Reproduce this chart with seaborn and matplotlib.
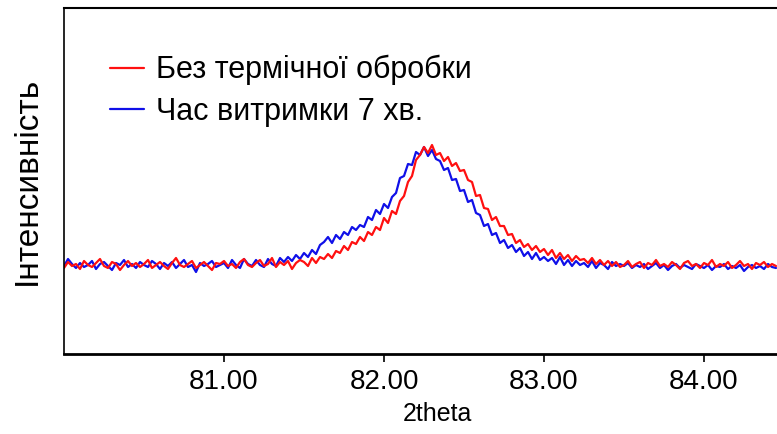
import numpy as np
import pandas as pd
import matplotlib
matplotlib.use("Agg")
import matplotlib.pyplot as plt
import seaborn as sns

# 2theta grid (step 0.025 from 80.000 to 84.450)
two_theta = [round(80.0 + 0.025 * i, 3) for i in range(179)]

# Intensity (arbitrary units)
red_no_treatment = [
    86, 92, 88, 90, 85, 93, 89, 87, 91, 95, 88, 86, 92, 90, 84, 89, 93, 88, 91, 87,
    90, 94, 86, 89, 92, 88, 85, 91, 96, 89, 87, 90, 93, 86, 89, 92, 88, 84, 91, 90,
    93, 88, 90, 86, 92, 95, 89, 87, 91, 94, 88, 90, 96, 87, 92, 89, 93, 85, 91, 94,
    92, 88, 96, 91, 97, 95, 100, 96, 103, 101,
    108, 104, 112, 110, 117, 113, 122, 119, 127, 124,
    136, 131, 143, 140, 153, 158, 172, 178, 194, 199,
    207, 201, 209, 199, 201, 193, 197, 188, 191, 183,
    184, 174, 172, 158, 159, 146, 145, 134, 137, 128,
    128, 119, 120, 111, 114, 107, 110, 104, 108, 102,
    105, 99, 104, 96, 101, 95, 99, 93, 98, 94,
    95, 91, 96, 90, 94, 89, 93, 88, 92, 87,
    89, 93, 87, 90, 92, 86, 91, 89, 94, 88, 90, 87, 92, 89, 85, 91, 93, 88, 90, 86,
    91, 89, 94, 87, 90, 88, 92, 86, 89, 93, 88, 90, 85, 91, 89, 92, 87, 90, 88,
]
blue_7min = [
    88, 95, 90, 86, 91, 87, 89, 93, 85, 90, 92, 88, 84, 91, 89, 94, 87, 90, 86, 92,
    89, 87, 93, 90, 85, 91, 88, 92, 86, 90, 94, 87, 89, 82, 91, 88, 90, 93, 87, 89,
    91, 86, 94, 89, 86, 95, 90, 88, 94, 89, 87, 95, 90, 88, 96, 92, 97, 93, 99, 95,
    101, 97, 104, 100, 109, 112, 117, 111, 119, 115,
    122, 119, 127, 124, 129, 127, 137, 134, 144, 140,
    150, 146, 157, 161, 176, 178, 190, 189, 202, 199,
    207, 198, 204, 195, 193, 184, 186, 174, 175, 163,
    164, 152, 154, 141, 139, 128, 130, 119, 121, 111,
    114, 106, 109, 102, 106, 98, 102, 95, 101, 94,
    97, 93, 96, 90, 97, 89, 94, 88, 93, 89,
    91, 87, 93, 86, 91, 89, 85, 92, 88, 90,
    88, 91, 86, 89, 87, 90, 85, 88, 91, 86, 89, 84, 88, 90, 86, 89, 87, 85, 90, 88,
    86, 89, 84, 88, 87, 90, 85, 88, 86, 89, 83, 87, 89, 86, 88, 85, 90, 87, 86,
]
series_labels = ["Без термічної обробки", "Час витримки 7 хв."]
x_ticks = [81.0, 82.0, 83.0, 84.0]
x_tick_labels = ["81.00", "82.00", "83.00", "84.00"]

sns.set_style("white")
plt.rcParams["font.family"] = ["Liberation Sans", "DejaVu Sans"]
plt.rcParams["text.color"] = "black"
plt.rcParams["axes.labelcolor"] = "black"
plt.rcParams["xtick.color"] = "black"

fig = plt.figure(figsize=(7.77, 4.34), dpi=100)
ax = fig.add_axes([64 / 777, 80 / 434, 746 / 777, 346 / 434])

df_red = pd.DataFrame({"x": two_theta, "y": red_no_treatment})
df_blue = pd.DataFrame({"x": two_theta, "y": blue_7min})

sns.lineplot(data=df_blue, x="x", y="y", ax=ax, color="#1010e8", linewidth=1.6,
             label=series_labels[1])
sns.lineplot(data=df_red, x="x", y="y", ax=ax, color="#ff1010", linewidth=1.6,
             label=series_labels[0])

ax.set_xlim(80.0, 84.6625)
ax.set_ylim(0, 346)
ax.set_xticks(x_ticks)
ax.set_xticklabels(x_tick_labels, fontsize=20)
ax.set_yticks([])
ax.tick_params(axis="x", direction="out", length=6, width=1.2, colors="black", pad=5,
               bottom=True)
ax.set_xlabel("2theta", fontsize=18, labelpad=5)
ax.set_ylabel("Інтенсивність", fontsize=24, labelpad=15)

for side in ["left", "top", "bottom"]:
    ax.spines[side].set_visible(True)
    ax.spines[side].set_color("black")
ax.spines["left"].set_linewidth(1.2)
ax.spines["top"].set_linewidth(1.5)
ax.spines["bottom"].set_linewidth(2.0)
ax.spines["right"].set_visible(False)

handles, labels = ax.get_legend_handles_labels()
order = [labels.index(series_labels[0]), labels.index(series_labels[1])]
leg = ax.legend([handles[i] for i in order], [labels[i] for i in order],
                loc="upper left", bbox_to_anchor=(46 / 746, (354 - 55) / 346),
                frameon=False, fontsize=22, borderpad=0, borderaxespad=0,
                handlelength=1.1, handletextpad=0.4, labelspacing=0.38)
for t in leg.get_texts():
    t.set_color("black")

fig.savefig("out.png", dpi=100)
